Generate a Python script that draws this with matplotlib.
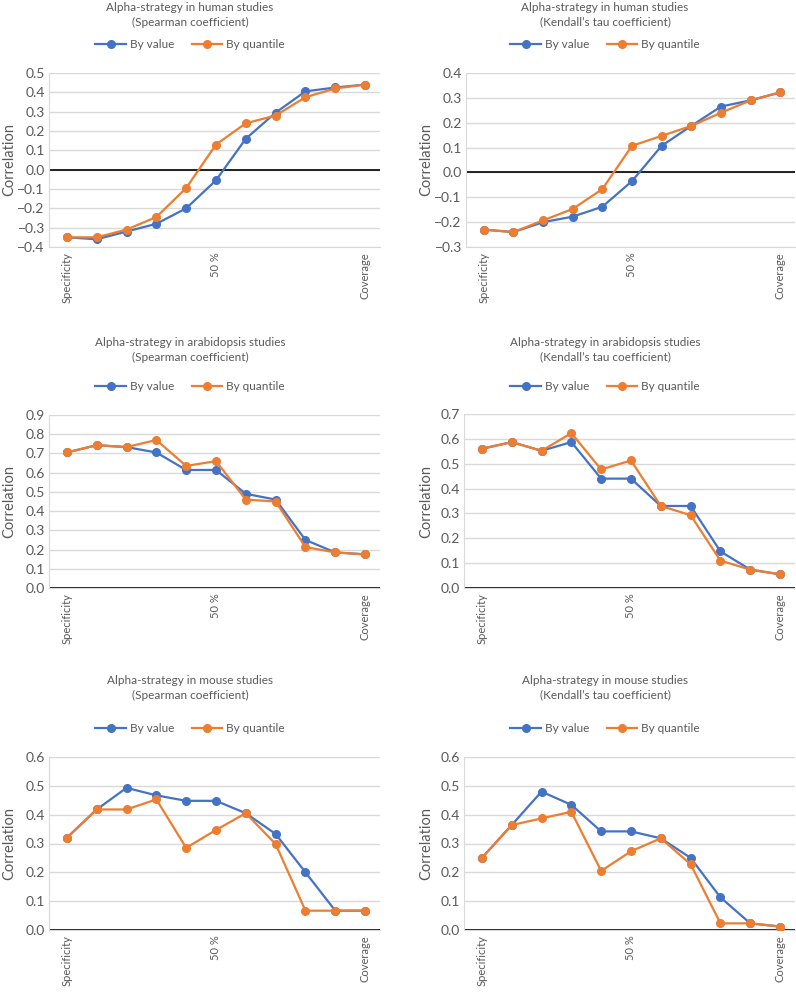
import matplotlib
matplotlib.use("Agg")
import matplotlib.pyplot as plt

plt.rcParams["font.family"] = ["Lato", "DejaVu Sans"]

# 11 thresholds from specificity to coverage
steps = list(range(11))
tick_pos = [0, 5, 10]
tick_labels = ["Specificity", "50 %", "Coverage"]

human_sp_value = [-0.35, -0.36, -0.32, -0.28, -0.20, -0.055, 0.16, 0.295, 0.405, 0.425, 0.44]
human_sp_quant = [-0.35, -0.35, -0.31, -0.245, -0.095, 0.13, 0.24, 0.28, 0.375, 0.42, 0.44]
human_kt_value = [-0.23, -0.24, -0.20, -0.178, -0.138, -0.035, 0.107, 0.187, 0.265, 0.29, 0.322]
human_kt_quant = [-0.23, -0.24, -0.193, -0.147, -0.067, 0.107, 0.147, 0.187, 0.24, 0.29, 0.322]

arab_sp_value = [0.705, 0.743, 0.733, 0.705, 0.614, 0.614, 0.49, 0.46, 0.25, 0.185, 0.175]
arab_sp_quant = [0.705, 0.743, 0.733, 0.77, 0.635, 0.66, 0.46, 0.45, 0.213, 0.185, 0.175]
arab_kt_value = [0.56, 0.587, 0.552, 0.587, 0.44, 0.44, 0.33, 0.33, 0.147, 0.074, 0.055]
arab_kt_quant = [0.56, 0.587, 0.552, 0.623, 0.477, 0.513, 0.33, 0.293, 0.11, 0.074, 0.055]

mouse_sp_value = [0.32, 0.418, 0.493, 0.467, 0.448, 0.448, 0.405, 0.333, 0.2, 0.067, 0.067]
mouse_sp_quant = [0.32, 0.418, 0.418, 0.453, 0.285, 0.347, 0.405, 0.298, 0.067, 0.067, 0.067]
mouse_kt_value = [0.25, 0.364, 0.48, 0.434, 0.342, 0.342, 0.318, 0.25, 0.113, 0.023, 0.012]
mouse_kt_quant = [0.25, 0.364, 0.387, 0.41, 0.205, 0.273, 0.318, 0.228, 0.023, 0.023, 0.012]

BLUE = "#4472C4"
ORANGE = "#ED7D31"
GREY = "#595959"
GRID = "#D9D9D9"

W, H = 796, 992
fig = plt.figure(figsize=(W / 100, H / 100), dpi=100)

panels = [
    # title, value, quantile, ylim, (left, right, top, bottom) px, title y px, legend y px
    ("Alpha-strategy in human studies\n(Spearman coefficient)", human_sp_value, human_sp_quant,
     (-0.4, 0.5), (49, 380, 73, 247), 15, 45),
    ("Alpha-strategy in human studies\n(Kendall\u2019s tau coefficient)", human_kt_value, human_kt_quant,
     (-0.3, 0.4), (466, 795, 73, 247), 15, 45),
    ("Alpha-strategy in arabidopsis studies\n(Spearman coefficient)", arab_sp_value, arab_sp_quant,
     (0.0, 0.9), (49, 380, 415, 588), 350, 387),
    ("Alpha-strategy in arabidopsis studies\n(Kendall\u2019s tau coefficient)", arab_kt_value, arab_kt_quant,
     (0.0, 0.7), (464, 795, 414, 588), 350, 387),
    ("Alpha-strategy in mouse studies\n(Spearman coefficient)", mouse_sp_value, mouse_sp_quant,
     (0.0, 0.6), (49, 380, 757, 930), 688, 729),
    ("Alpha-strategy in mouse studies\n(Kendall\u2019s tau coefficient)", mouse_kt_value, mouse_kt_quant,
     (0.0, 0.6), (464, 795, 757, 930), 688, 729),
]

for i, (title, val, quant, ylim, box, ty, ly) in enumerate(panels):
    l, r, t, b = box
    ax = fig.add_axes([l / W, (H - b) / H, (r - l) / W, (b - t) / H])
    yt = [round(ylim[0] + 0.1 * k, 1) for k in range(int(round((ylim[1] - ylim[0]) / 0.1)) + 1)]
    ax.set_ylim(ylim)
    ax.set_yticks(yt)
    ax.set_yticklabels([f"{v:.1f}".replace("-", "\u2212") for v in yt])
    ax.set_xlim(-0.6, 10.5)
    ax.set_xticks(tick_pos)
    ax.set_xticklabels(tick_labels, rotation=90)
    ax.grid(axis="y", color=GRID, linewidth=1.0)
    ax.set_axisbelow(True)
    for s in ["top", "right"]:
        ax.spines[s].set_visible(False)
    ax.spines["left"].set_color(GRID)
    ax.spines["bottom"].set_color(GRID)
    ax.axhline(0, color="black", linewidth=1.2, zorder=2)
    ax.tick_params(axis="both", length=0, colors=GREY)
    ax.tick_params(axis="y", labelsize=10, pad=3)
    ax.tick_params(axis="x", labelsize=8, pad=4)

    lx = 9 if i % 2 == 0 else 426
    ax.set_ylabel("Correlation", color=GREY, fontsize=10.5, va="center")
    ax.yaxis.set_label_coords(lx / W, 1 - (t + b) / 2 / H, transform=fig.transFigure)

    ax.plot(steps, val, color=BLUE, marker="o", markersize=5.5, linewidth=1.6, label="By value", zorder=3)
    ax.plot(steps, quant, color=ORANGE, marker="o", markersize=5.5, linewidth=1.6, label="By quantile", zorder=4)

    cx = 190 if i % 2 == 0 else 605
    fig.text(cx / W, 1 - ty / H, title, ha="center", va="center", fontsize=8.5, color=GREY,
             linespacing=1.35)
    ax.legend(loc="center", bbox_to_anchor=(cx / W, 1 - ly / H), bbox_transform=fig.transFigure,
              ncol=2, frameon=False, fontsize=8.5, labelcolor=GREY, handlelength=2.6,
              columnspacing=1.5, handletextpad=0.3, borderpad=0)

fig.savefig("out.png", dpi=100, facecolor="white")
